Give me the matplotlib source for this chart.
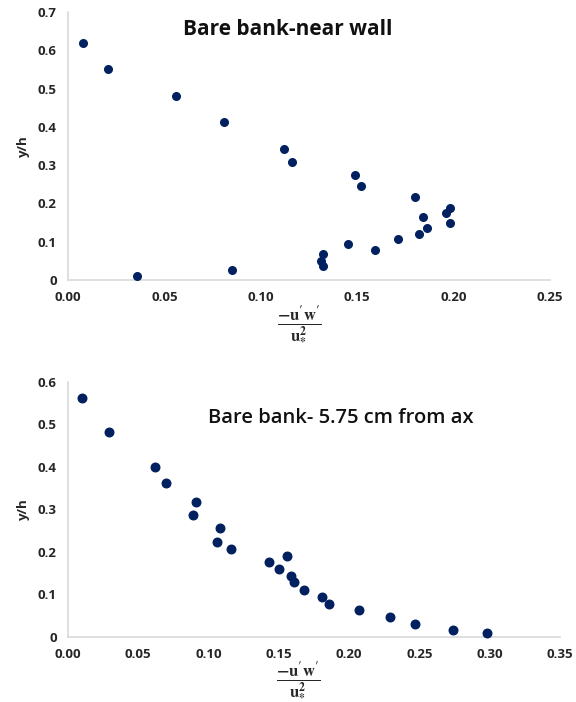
import numpy as np
import matplotlib
matplotlib.use("Agg")
import matplotlib.pyplot as plt

# top panel: bare bank near wall
x_wall = [0.008, 0.021, 0.056, 0.081, 0.112, 0.116, 0.149, 0.152, 0.180, 0.184,
          0.186, 0.182, 0.196, 0.198, 0.198, 0.171, 0.159, 0.145, 0.132, 0.131,
          0.132, 0.085, 0.036]
y_wall = [0.619, 0.550, 0.481, 0.412, 0.343, 0.308, 0.274, 0.246, 0.217, 0.164,
          0.136, 0.120, 0.176, 0.189, 0.149, 0.108, 0.079, 0.095, 0.067, 0.051,
          0.038, 0.026, 0.011]

# bottom panel: 5.75 cm from axis
x_ax = [0.010, 0.029, 0.062, 0.070, 0.091, 0.089, 0.108, 0.106, 0.116, 0.143,
        0.150, 0.156, 0.159, 0.161, 0.168, 0.181, 0.186, 0.207, 0.229, 0.247,
        0.274, 0.298]
y_ax = [0.561, 0.481, 0.400, 0.361, 0.318, 0.287, 0.256, 0.222, 0.206, 0.175,
        0.159, 0.191, 0.144, 0.128, 0.110, 0.094, 0.078, 0.063, 0.047, 0.031,
        0.016, 0.008]

xticks_top = [0.00, 0.05, 0.10, 0.15, 0.20, 0.25]
yticks_top = [0, 0.1, 0.2, 0.3, 0.4, 0.5, 0.6, 0.7]
xticks_bot = [0.00, 0.05, 0.10, 0.15, 0.20, 0.25, 0.30, 0.35]
yticks_bot = [0, 0.1, 0.2, 0.3, 0.4, 0.5, 0.6]

plt.rcParams['font.family'] = ['Open Sans', 'DejaVu Sans']
plt.rcParams['mathtext.fontset'] = 'stix'

navy = '#002060'
txt = '#262626'
xlab = r"$\frac{\mathbf{-u'w'}}{\mathbf{u_{*}^{2}}}$"

fig = plt.figure(figsize=(5.76, 7.02), dpi=100)
ax1 = fig.add_axes([0.118, 0.601, 0.837, 0.382])
ax2 = fig.add_axes([0.118, 0.093, 0.854, 0.363])


def style(ax, xt, yt):
    for s in ['top', 'right']:
        ax.spines[s].set_visible(False)
    for s in ['left', 'bottom']:
        ax.spines[s].set_color('#d9d9d9')
        ax.spines[s].set_linewidth(1.2)
    ax.set_xticks(xt)
    ax.set_yticks(yt)
    ax.set_xticklabels([f"{v:.2f}" for v in xt])
    ax.set_yticklabels(["0" if v == 0 else f"{v:.1f}" for v in yt])
    ax.tick_params(length=0, labelsize=9.5, colors=txt, pad=8)
    for lab in ax.get_xticklabels() + ax.get_yticklabels():
        lab.set_fontweight('bold')
    ax.set_xlim(xt[0], xt[-1])
    ax.set_ylim(yt[0], yt[-1])
    ax.set_ylabel("y/h", fontsize=9.5, fontweight='bold', color=txt, labelpad=6)


ax1.scatter(x_wall, y_wall, s=30, color=navy, zorder=3, clip_on=False)
style(ax1, xticks_top, yticks_top)
ax1.text(0.455, 0.935, "Bare bank-near wall", transform=ax1.transAxes,
         ha='center', va='center', fontsize=15, fontweight='bold', color='#111111')
ax1.set_xlabel(xlab, fontsize=17, color=txt, labelpad=0)
ax1.xaxis.set_label_coords(0.48, -0.085)

ax2.scatter(x_ax, y_ax, s=38, color=navy, zorder=3, clip_on=False)
style(ax2, xticks_bot, yticks_bot)
ax2.text(0.555, 0.86, "Bare bank- 5.75 cm from ax", transform=ax2.transAxes,
         ha='center', va='center', fontsize=14.5, fontweight='semibold', color='#111111')
ax2.set_xlabel(xlab, fontsize=17, color=txt, labelpad=0)
ax2.xaxis.set_label_coords(0.468, -0.09)

fig.savefig("out.png", dpi=100, facecolor='white')
